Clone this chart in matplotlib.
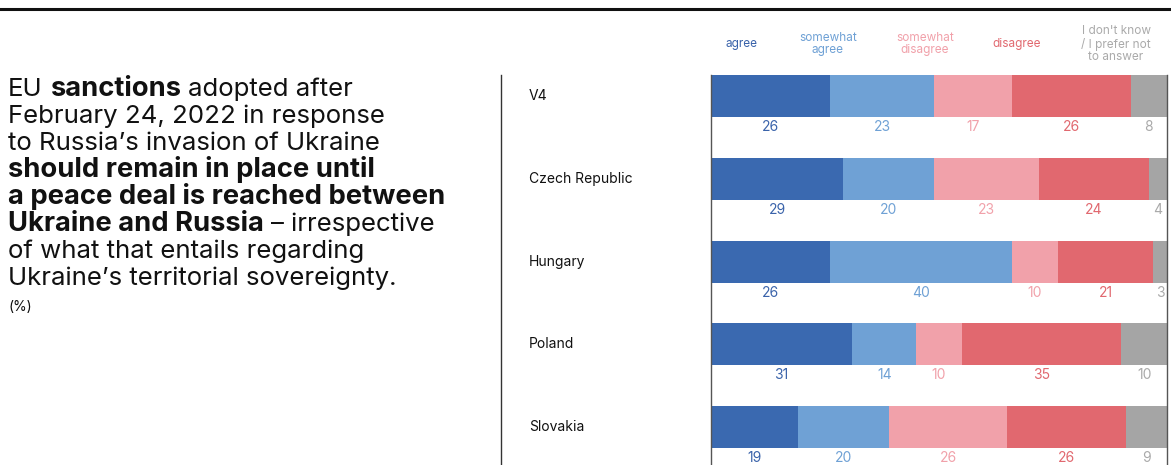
import matplotlib
matplotlib.use("Agg")
import matplotlib.pyplot as plt
from matplotlib.lines import Line2D
from matplotlib import transforms

# ---- data -----------------------------------------------------------------
countries = ["V4", "Czech Republic", "Hungary", "Poland", "Slovakia"]
answers = ["agree", "somewhat\nagree", "somewhat\ndisagree", "disagree",
           "I don't know\n/ I prefer not\nto answer"]
agree = [26, 29, 26, 31, 19]
somewhat_agree = [23, 20, 40, 14, 20]
somewhat_disagree = [17, 23, 10, 10, 26]
disagree = [26, 24, 21, 35, 26]
dont_know = [8, 4, 3, 10, 9]
series = [agree, somewhat_agree, somewhat_disagree, disagree, dont_know]

bar_colors = ["#3A69B0", "#6FA1D5", "#F1A1AA", "#E1686F", "#A5A5A5"]
text_colors = ["#3A63AA", "#6FA1D5", "#F1A1AA", "#E1686F", "#AAAAAA"]

FONT = "Inter"
plt.rcParams["font.family"] = [FONT, "DejaVu Sans"]

W, H = 1171, 465
fig = plt.figure(figsize=(W / 100, H / 100), dpi=100)

def fx(px):
    return px / W

def fy(py):
    return 1 - py / H

# ---- bar axes -------------------------------------------------------------
x0, x1 = 711, 1167
row0, step = 96.0, 82.75
ax = fig.add_axes([fx(x0), 0, fx(x1) - fx(x0), 1])
ax.set_xlim(0, 100)
ax.set_ylim((H - row0) / step, -row0 / step)
bar_h = 42 / step

for i, country in enumerate(countries):
    left = 0
    for k, vals in enumerate(series):
        v = vals[i]
        ax.barh(i, v, left=left, height=bar_h, color=bar_colors[k],
                edgecolor="none")
        ax.text(left + v / 2, i + 31 / step, str(v), ha="center",
                va="center", fontsize=10, color=text_colors[k])
        left += v

ax.set_xticks([])
ax.set_yticks([])
for s in ["top", "bottom"]:
    ax.spines[s].set_visible(False)
for s in ["left", "right"]:
    ax.spines[s].set_color("#555555")
    ax.spines[s].set_linewidth(1.0)
    ax.spines[s].set_bounds(-bar_h / 2, (H - row0) / step)

# country names, left of the bars
blend = transforms.blended_transform_factory(fig.transFigure, ax.transData)
for i, country in enumerate(countries):
    ax.text(fx(529), i, country, transform=blend, ha="left", va="center",
            fontsize=10, color="#111111", clip_on=False)

# answer legend above the columns
legend_x = [742, 828, 925, 1017, 1116]
for k, lab in enumerate(answers):
    fig.text(fx(legend_x[k]), fy(44), lab, ha="center", va="center",
             fontsize=8.5, color=text_colors[k], linespacing=1.1)

# ---- rules ----------------------------------------------------------------
fig.add_artist(Line2D([0, 1], [fy(9), fy(9)], transform=fig.transFigure,
                      color="#111111", lw=2.2))
fig.add_artist(Line2D([fx(501), fx(501)], [fy(75), 0],
                      transform=fig.transFigure, color="#333333", lw=1.0))

# ---- statement text -------------------------------------------------------
title_lines = [
    [("EU", False), ("sanctions", True), ("adopted after", False)],
    [("February 24, 2022 in response", False)],
    [("to Russia’s invasion of Ukraine", False)],
    [("should remain in place until", True)],
    [("a peace deal is reached between", True)],
    [("Ukraine and Russia", True), ("– irrespective", False)],
    [("of what that entails regarding", False)],
    [("Ukraine’s territorial sovereignty.", False)],
]
renderer = fig.canvas.get_renderer()

def width_px(s, bold, size):
    t = fig.text(0, 0, s, fontsize=size,
                 fontweight="bold" if bold else "normal")
    w = t.get_window_extent(renderer).width
    t.remove()
    return w

# bold lines sized to span 8..445 px, regular lines to span 8..397 px
bold_size = 18.0 * 437 / width_px("a peace deal is reached between",
                                  True, 18.0)
reg_size = 18.0 * 389 / width_px("Ukraine’s territorial sovereignty.",
                                 False, 18.0)
space = width_px("a a", False, reg_size) - width_px("aa", False, reg_size)
base0, lead = 96, 27
for n, pieces in enumerate(title_lines):
    x = 8
    for j, (s, bold) in enumerate(pieces):
        if j > 0:
            x += space
        t = fig.text(fx(x), fy(base0 + n * lead), s,
                     fontsize=bold_size if bold else reg_size,
                     fontweight="bold" if bold else "normal",
                     ha="left", va="baseline", color="#111111")
        x += t.get_window_extent(renderer).width

fig.text(fx(8), fy(311), "(%)", fontsize=10, ha="left", va="baseline",
         color="#111111")

fig.savefig("out.png", dpi=100)
